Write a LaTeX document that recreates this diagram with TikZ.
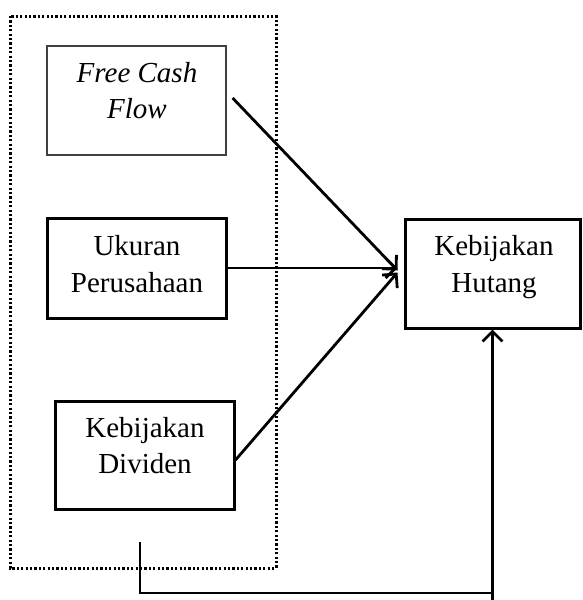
\documentclass[tikz,border=0pt]{standalone}
\usepackage{fontspec}
\setmainfont{Liberation Serif}
\usetikzlibrary{arrows.meta}
\begin{document}
\begin{tikzpicture}[x=1pt,y=-1pt,
  box/.style={draw, line width=3pt, inner sep=0pt},
  txt/.style={anchor=base, inner sep=0pt, font=\fontsize{29}{34}\selectfont},
  link/.style={line width=2.8pt, -{Straight Barb[length=10pt,width=20pt,line width=2.8pt]}},
  plain/.style={line width=2.8pt}
]
\useasboundingbox (0,0) rectangle (582,600);
\draw[line width=3pt, dash pattern=on 2.2pt off 2.2pt] (10,16) rectangle (276,568);

\node[draw=black!75, line width=1.2pt, inner sep=0pt, minimum width=179pt, minimum height=109pt] (fcf) at (136.5,100.5) {};
\node[box, minimum width=179pt, minimum height=100pt] (uk) at (136.5,268) {};
\node[box, minimum width=179pt, minimum height=108pt] (div) at (144.5,455) {};
\node[box, minimum width=175pt, minimum height=109pt] (hut) at (492.5,273.5) {};

\node[txt] (t1) at (137,82) {\itshape Free Cash};
\node[txt] (t2) at (137,118) {\itshape Flow};
\node[txt] (t3) at (137,255) {Ukuran};
\node[txt] (t4) at (137,292) {Perusahaan};
\node[txt] (t5) at (145,437) {Kebijakan};
\node[txt] (t6) at (145,473) {Dividen};
\node[txt] (t7) at (494,255) {Kebijakan};
\node[txt] (t8) at (494,292) {Hutang};

\draw[link] ([xshift=6pt,yshift=2.5pt]fcf.east) -- ([xshift=-6pt,yshift=3pt]hut.west);
\draw[link] (uk.east) -- ([xshift=-6pt,yshift=5.5pt]hut.west);
\draw[link] ([yshift=-5pt]div.east) -- ([xshift=-6pt,yshift=1pt]hut.west);

\coordinate (c1) at (140,542);
\coordinate (c2) at (492.5,593);
\coordinate (c3) at (492.5,600);
\draw[plain] (c1) |- (c2);
\draw[link] (c3) -- (hut.south);
\end{tikzpicture}
\end{document}
